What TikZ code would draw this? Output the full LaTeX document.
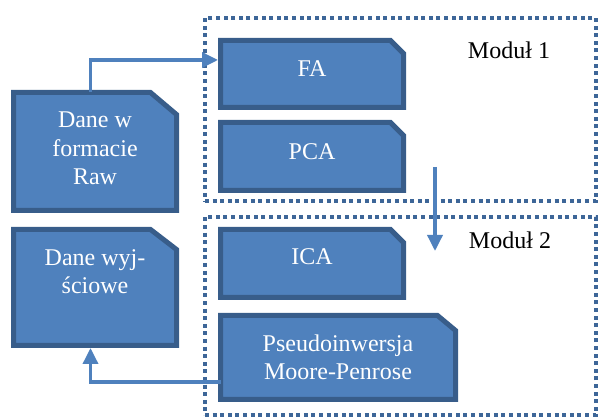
\documentclass[tikz,border=0pt]{standalone}
\usepackage{fontspec}
\setmainfont{Liberation Serif}
\usetikzlibrary{arrows.meta}
\definecolor{boxfill}{HTML}{4F81BD}
\definecolor{boxline}{HTML}{385D8A}
\definecolor{dotline}{HTML}{3D6698}
\newcommand\chamferbox[3]{%
  \draw[boxpath] (#1.south west) -- (#1.north west) -- ([xshift=-#2]#1.north east)
    -- ([yshift=-#3]#1.north east) -- (#1.south east) -- cycle;}
\begin{document}
\begin{tikzpicture}[x=1pt,y=-1pt,
  box/.style={rectangle, inner sep=0pt, outer sep=0pt},
  boxpath/.style={draw=boxline, fill=boxfill, line width=5pt},
  lbl/.style={text=white, font=\fontsize{24}{28.5}\selectfont, align=center, inner sep=0pt, anchor=base},
  modlbl/.style={text=black, font=\fontsize{24}{28.5}\selectfont, inner sep=0pt, anchor=base},
  modbox/.style={draw=dotline, line width=4pt, dash pattern=on 4pt off 3.6pt, inner sep=0pt},
  arr/.style={draw=boxfill, line width=3.5pt, shorten >=2.5pt, -{Triangle[length=16pt,width=15pt]}}]
\useasboundingbox (0,0) rectangle (598,419);
% modules
\node[modbox, minimum width=391pt, minimum height=183pt] (m1) at (400.5,109.5) {};
\node[modbox, minimum width=391pt, minimum height=198pt] (m2) at (400.5,316) {};
\node[modlbl] (m1t) at (509,59) {Moduł 1};
\node[modlbl] (m2t) at (510,249) {Moduł 2};
% boxes
\node[box, minimum width=163pt, minimum height=118pt] (raw) at (95,151.5) {};
\node[box, minimum width=163pt, minimum height=116pt] (out) at (95,287.5) {};
\node[box, minimum width=183pt, minimum height=67pt] (fa) at (312,74) {};
\node[box, minimum width=183pt, minimum height=68pt] (pca) at (312,156.5) {};
\node[box, minimum width=183pt, minimum height=68pt] (ica) at (312,263.5) {};
\node[box, minimum width=235pt, minimum height=84pt] (pin) at (338,357.5) {};
\chamferbox{raw}{26pt}{22pt}
\chamferbox{out}{26pt}{20pt}
\chamferbox{fa}{13pt}{13pt}
\chamferbox{pca}{13pt}{13pt}
\chamferbox{ica}{13pt}{13pt}
\chamferbox{pin}{18pt}{15pt}
% labels
\node[lbl] (rawt) at (95,185) {Dane w\\formacie\\Raw};
\node[lbl] (outt) at (95,294) {Dane wyj-\\ściowe};
\node[lbl] (fat) at (312,77) {FA};
\node[lbl] (pcat) at (312,160) {PCA};
\node[lbl] (icat) at (312,265) {ICA};
\node[lbl] (pint) at (338,380) {Pseudoinwersja\\Moore-Penrose};
% arrows
\coordinate (c1) at (90.5,60);
\draw[arr] (raw.north -| c1) |- (fa.west |- c1);
\coordinate (c2a) at (435,167);
\coordinate (c2b) at (435,251);
\draw[arr, shorten >=0pt] (c2a) -- (c2b);
\coordinate (c3) at (90.5,382);
\draw[arr] (pin.west |- c3) -| (out.south -| c3);
\end{tikzpicture}
\end{document}
